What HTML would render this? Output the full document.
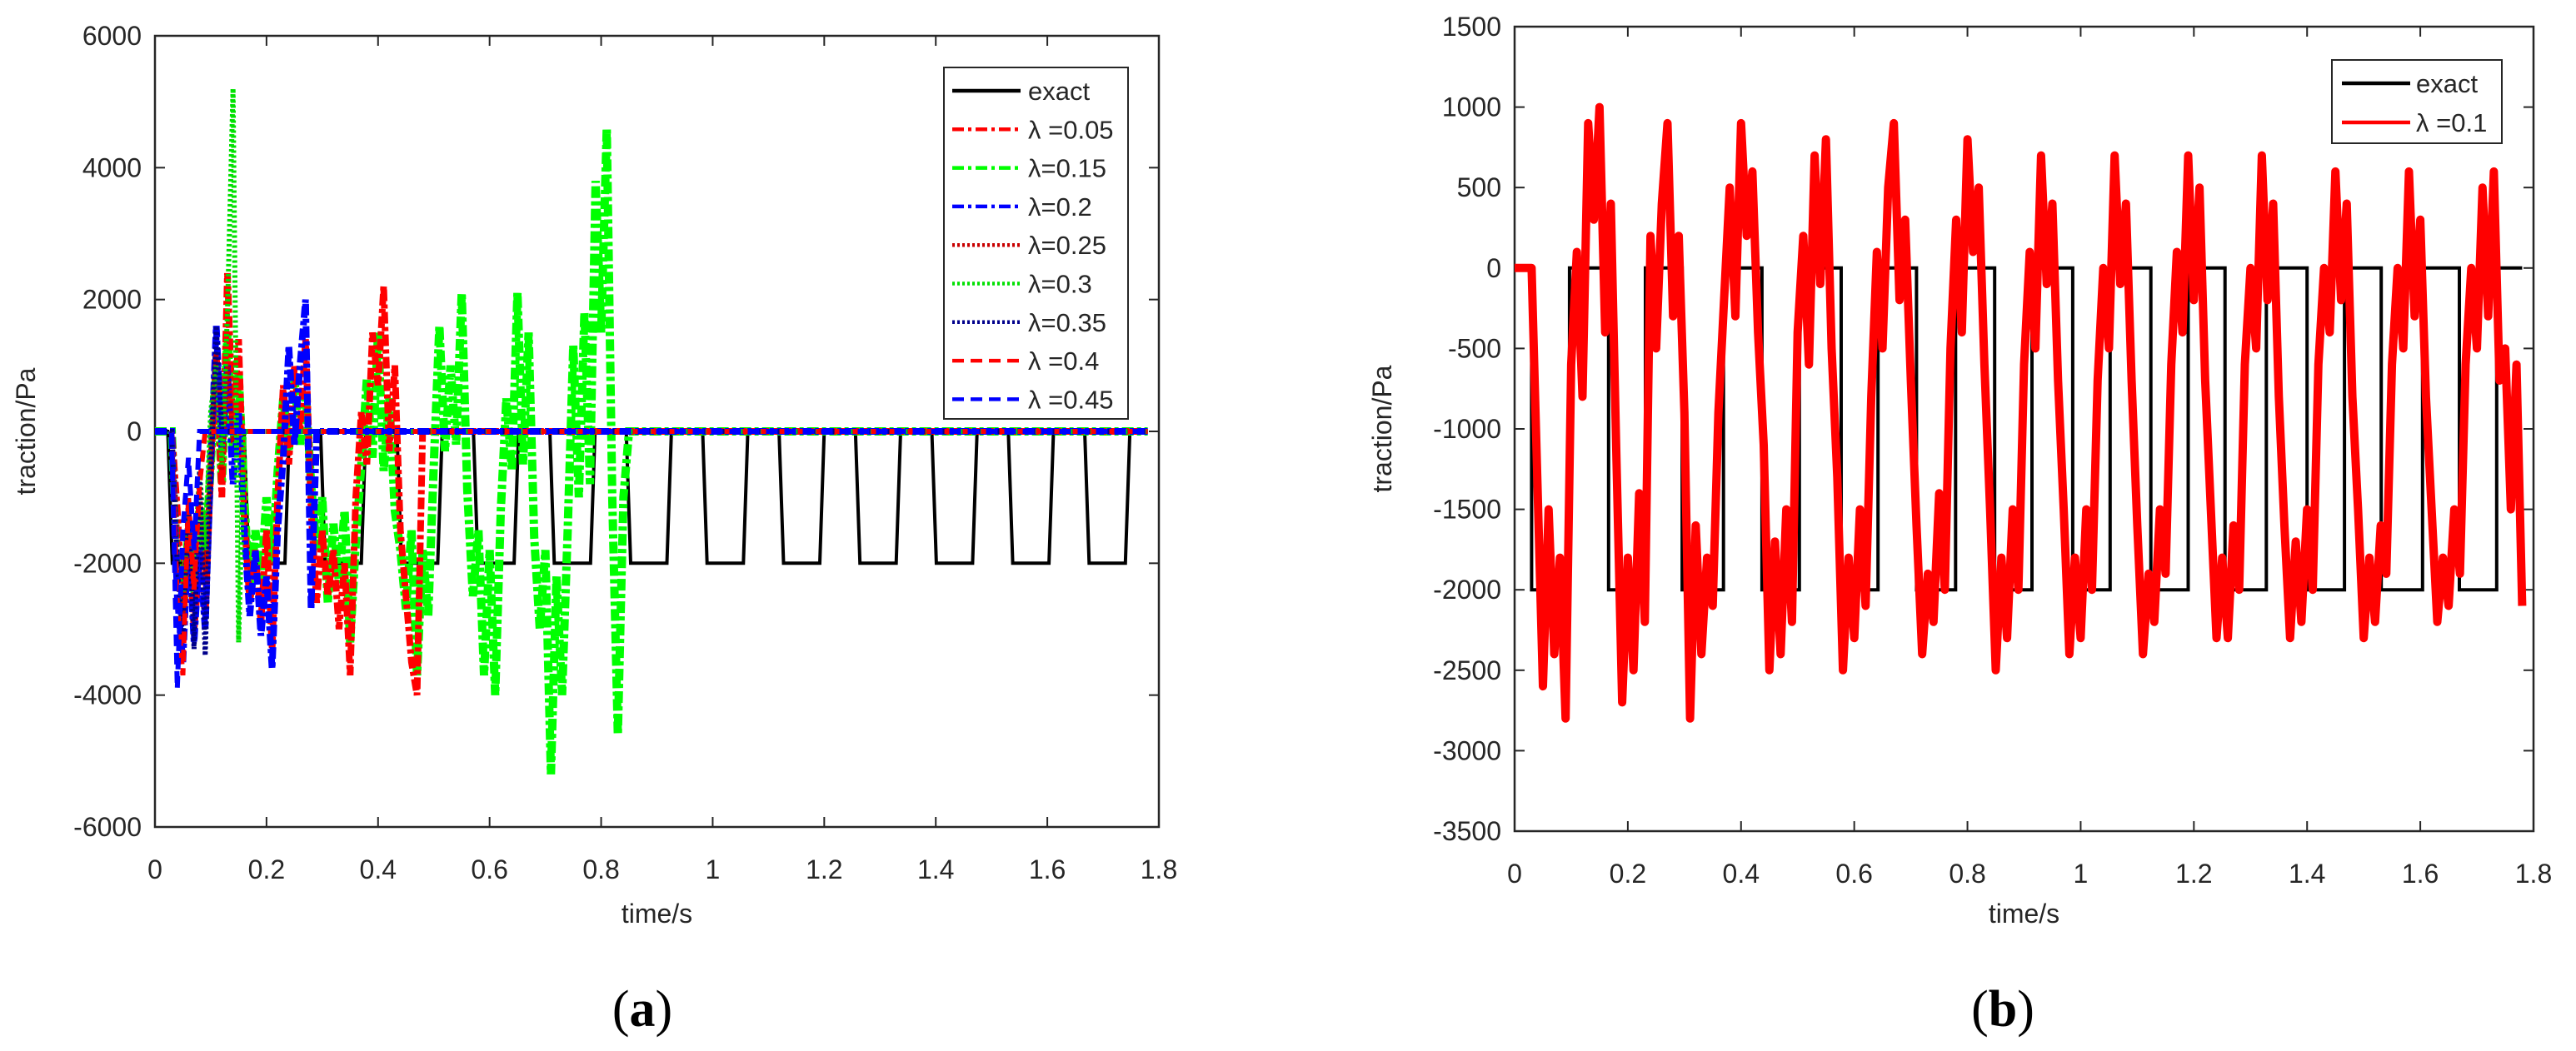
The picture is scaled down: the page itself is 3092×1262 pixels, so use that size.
<!DOCTYPE html>
<html><head><meta charset="utf-8"><style>
html,body{margin:0;padding:0;background:#fff;}
svg{display:block;}
text{font-family:"Liberation Sans",sans-serif;fill:#262626;}
.cap{font-family:"Liberation Serif",serif;fill:#000;}
</style></head><body>
<svg id="fig" width="3092" height="1262" viewBox="0 0 3092 1262" xmlns="http://www.w3.org/2000/svg">
<g id="pa"></g>
<g id="pb"></g>
<text class="cap" x="771" y="1232" font-size="62" text-anchor="middle">(<tspan font-weight="bold">a</tspan>)</text>
<text class="cap" x="2404" y="1232" font-size="62" text-anchor="middle">(<tspan font-weight="bold">b</tspan>)</text>
</svg>
<script>
// ---------- data ----------
const xTicks = [0,0.2,0.4,0.6,0.8,1,1.2,1.4,1.6,1.8];
const xTickLabels = ["0","0.2","0.4","0.6","0.8","1","1.2","1.4","1.6","1.8"];
const aYTicks = [-6000,-4000,-2000,0,2000,4000,6000];
const bYTicks = [-3500,-3000,-2500,-2000,-1500,-1000,-500,0,500,1000,1500];
const dt = 0.01;
// panel a exact pulses (fall times to -2000)
const aExactFalls = [0.023,0.16,0.297,0.434,0.571,0.708,0.845,0.982,1.119,1.256,1.393,1.530,1.667];
const aExactHold = 0.073;
const aExactLevel = -2000;
// panel a series (sampled every dt from t=0)
const aL005 = [0,0,0,0,-1200,-2700,-1500,-3000,-2000,-2800,-600,1200,-1000,2400,0,1400,-1300,-2600,-1800,-2900,-1500,-3300,-1000,700,-500,1000,0,1400,-1200,-2600,-1500,-2500,-1800,-3000,-2000,-3700,-1000,300,-500,1500,700,2200,-300,1000,-1500,-2500,-3500,-4000,0];
const aL015 = [0,0,0,0,-2000,-2800,-1500,-2600,-1200,-2000,-500,1000,-800,1500,-300,900,-1000,-2500,-1500,-2300,-1000,-2000,-600,500,-300,800,-200,600,-800,-1800,-1000,-2600,-1400,-2300,-1200,-3200,-1700,-500,800,-400,1500,-600,500,-1200,-1800,-2700,-1500,-3700,-1800,-2800,-500,1600,-300,1000,-200,2100,-900,-2500,-1500,-3700,-1800,-4000,-1200,500,-600,2100,-500,1500,-1600,-3000,-1800,-5200,-2200,-4000,-1500,1300,-1000,1800,-800,3800,1500,4600,-1000,-4600,-1000,0];
const aL02 = [0,0,0,0,-2500,-3500,-1500,-3200,-1800,-3000,-500,1600,-300,1000,-800,300,-1500,-2800,-1800,-3100,-2200,-3600,-1500,-400,1300,-200,1000,2000,-2700,0];
const aL025 = [0,0,0,0,-1500,-2800,-1200,-2500,-900,-2200,-300,1200,-600,1000,-100,0];
const aL03 = [0,0,0,0,-1800,-2600,-1200,-2200,-600,-1800,300,1000,-500,1800,5200,-3200,0];
const aL035 = [0,0,0,0,-2000,-3200,-1000,-3300,-600,-3400,-700,1600,0];
const aL04 = [0,0,0,0,-2600,-3700,-1000,-2400,-800,0];
const aL045 = [0,0,0,0,-3900,-1500,-400,-1800,0];
// panel b exact (fall/rise times)
const bExactFalls = [0.03,0.166,0.296,0.437,0.577,0.710,0.848,0.986,1.124,1.255,1.400,1.531,1.669];
const bExactRises = [0.097,0.231,0.369,0.503,0.642,0.779,0.914,1.052,1.190,1.328,1.466,1.604,1.735];
const bL01 = [0,0,0,0,-1300,-2600,-1500,-2400,-1800,-2800,-600,100,-800,900,300,1000,-400,400,-1200,-2700,-1800,-2500,-1400,-2200,200,-500,400,900,-300,200,-900,-2800,-1600,-2400,-1800,-2100,-900,-200,500,-300,900,200,600,-400,-1100,-2500,-1700,-2400,-1500,-2200,-400,200,-600,700,-100,800,-500,-1300,-2500,-1800,-2300,-1500,-2100,-800,100,-500,500,900,-200,300,-700,-1600,-2400,-1900,-2200,-1400,-2000,-500,300,-400,800,100,500,-600,-1500,-2500,-1800,-2300,-1500,-2000,-600,100,-500,700,-100,400,-700,-1500,-2400,-1800,-2300,-1500,-2000,-700,0,-500,700,-100,400,-700,-1600,-2400,-1900,-2200,-1500,-1900,-600,100,-400,700,-200,500,-700,-1500,-2300,-1800,-2300,-1600,-2000,-600,0,-500,700,-200,400,-800,-1600,-2300,-1700,-2200,-1500,-2000,-600,0,-400,600,-200,400,-800,-1500,-2300,-1800,-2200,-1600,-1900,-600,0,-500,600,-300,300,-800,-1500,-2200,-1800,-2100,-1500,-1900,-600,0,-500,500,-300,600,-700,-500,-1500,-600,-2100];

// ---------- helpers ----------
const NS="http://www.w3.org/2000/svg";
function mk(tag, attrs, parent){const e=document.createElementNS(NS,tag);for(const k in attrs)e.setAttribute(k,attrs[k]);parent.appendChild(e);return e;}

function axes(g, box, ymin, ymax, yTicks, ylx, yLabelX){
  const sx=t=>box.x0+(t-0)/(1.8)*(box.x1-box.x0);
  const sy=v=>box.y1-(v-ymin)/(ymax-ymin)*(box.y1-box.y0);
  const frame=mk('rect',{x:box.x0,y:box.y0,width:box.x1-box.x0,height:box.y1-box.y0,fill:'#fff',stroke:'#262626','stroke-width':2.5},g);
  
  
  xTicks.forEach((t,i)=>{
    const x=sx(t);
    mk('line',{x1:x,x2:x,y1:box.y1,y2:box.y1-12,stroke:'#262626','stroke-width':2},g);
    mk('line',{x1:x,x2:x,y1:box.y0,y2:box.y0+12,stroke:'#262626','stroke-width':2},g);
    const tx=mk('text',{x:x,y:box.y1+62,'font-size':32,'text-anchor':'middle'},g);
    tx.textContent=xTickLabels[i];
    
    
  });
  yTicks.forEach(v=>{
    const y=sy(v);
    mk('line',{x1:box.x0,x2:box.x0+12,y1:y,y2:y,stroke:'#262626','stroke-width':2},g);
    mk('line',{x1:box.x1,x2:box.x1-12,y1:y,y2:y,stroke:'#262626','stroke-width':2},g);
    const tx=mk('text',{x:ylx,y:y+11,'font-size':32,'text-anchor':'end'},g);
    tx.textContent=String(v);
    
    
  });
  const xl=mk('text',{x:(box.x0+box.x1)/2,y:1108,'font-size':32,'text-anchor':'middle'},g);
  xl.textContent='time/s';
  
  
  const cy=(box.y0+box.y1)/2;
  const yl=mk('text',{x:yLabelX,y:cy,'font-size':32,'text-anchor':'middle',transform:`rotate(-90 ${yLabelX} ${cy})`},g);
  yl.textContent='traction/Pa';
  
  
  return {sx,sy};
}
function seriesPts(arr, sx, sy){
  const p=arr.map((v,i)=>[sx(i*dt),sy(v)]);
  const tEnd=(arr.length-1)*dt;
  if(tEnd<1.78) p.push([sx(1.78),sy(0)]);
  return p.map(q=>q[0].toFixed(1)+','+q[1].toFixed(1)).join(' ');
}

// ---------- panel a ----------
const ga=document.getElementById('pa');
const boxA={x0:186,x1:1391,y0:43,y1:993};
const A=axes(ga,boxA,-6000,6000,aYTicks,170,42);
const clipA=mk('clipPath',{id:'ca'},ga);
mk('rect',{x:boxA.x0,y:boxA.y0,width:boxA.x1-boxA.x0,height:boxA.y1-boxA.y0},clipA);
const plotA=mk('g',{'clip-path':'url(#ca)'},ga);
(function(){
  let pts=[[0,0]];
  aExactFalls.forEach(f=>{pts.push([f,0],[f+0.008,aExactLevel],[f+aExactHold,aExactLevel],[f+aExactHold+0.008,0]);});
  pts.push([1.78,0]);
  const pl=mk('polyline',{points:pts.map(p=>A.sx(p[0]).toFixed(1)+','+A.sy(p[1]).toFixed(1)).join(' '),fill:'none',stroke:'#000','stroke-width':4},plotA);
  
  
})();
const aSeries=[
  {d:aL015,c:'#00ff00',da:'14 4 5 4',w:10,n:'series-lambda-0.15'},
  {d:aL005,c:'#ff0000',da:'14 4 5 4',w:8,n:'series-lambda-0.05'},
  {d:aL02,c:'#0000ff',da:'14 4 5 4',w:8,n:'series-lambda-0.2'},
  {d:aL025,c:'#c80000',da:'3 3',w:6,n:'series-lambda-0.25'},
  {d:aL03,c:'#00e000',da:'3 3',w:6,n:'series-lambda-0.3'},
  {d:aL035,c:'#00008b',da:'3 3',w:6,n:'series-lambda-0.35'},
  {d:aL04,c:'#ff0000',da:'14 8',w:6,n:'series-lambda-0.4'},
  {d:aL045,c:'#0000ff',da:'14 8',w:6,n:'series-lambda-0.45'}
];
aSeries.forEach(s=>{
  const pl=mk('polyline',{points:seriesPts(s.d,A.sx,A.sy),fill:'none',stroke:s.c,'stroke-width':s.w,'stroke-dasharray':s.da},plotA);
  
  
});
(function(){
  const lg=mk('g',{},ga);
  
  
  mk('rect',{x:1133,y:81,width:221,height:422,fill:'#fff',stroke:'#262626','stroke-width':2},lg);
  const ent=[['exact','#000',null],['λ =0.05','#ff0000','14 5 4 5'],['λ=0.15','#00ff00','14 5 4 5'],['λ=0.2','#0000ff','14 5 4 5'],['λ=0.25','#c80000','3 3'],['λ=0.3','#00e000','3 3'],['λ=0.35','#00008b','3 3'],['λ =0.4','#ff0000','14 8'],['λ =0.45','#0000ff','14 8']];
  ent.forEach((e,i)=>{
    const y=109+i*46.3;
    const ge=mk('g',{},lg);
    
    
    const a={x1:1143,x2:1225,y1:y,y2:y,stroke:e[1],'stroke-width':4.5};
    if(e[2])a['stroke-dasharray']=e[2];
    mk('line',a,ge);
    const t=mk('text',{x:1234,y:y+11,'font-size':31},ge);
    t.textContent=e[0];
  });
})();

// ---------- panel b ----------
const gb=document.getElementById('pb');
const boxB={x0:1818,x1:3041,y0:32,y1:998};
const B=axes(gb,boxB,-3500,1500,bYTicks,1802,1670);
const clipB=mk('clipPath',{id:'cb'},gb);
mk('rect',{x:boxB.x0,y:boxB.y0,width:boxB.x1-boxB.x0,height:boxB.y1-boxB.y0},clipB);
const plotB=mk('g',{'clip-path':'url(#cb)'},gb);
(function(){
  let pts=[[0,0]];
  bExactFalls.forEach((f,i)=>{
    const r=bExactRises[i];
    pts.push([f,0],[f,-2000],[r,-2000],[r,0]);
  });
  pts.push([1.78,0]);
  const pl=mk('polyline',{points:pts.map(p=>B.sx(p[0]).toFixed(1)+','+B.sy(p[1]).toFixed(1)).join(' '),fill:'none',stroke:'#000','stroke-width':4},plotB);
  
  
  const pr=mk('polyline',{points:bL01.map((v,i)=>B.sx(i*dt).toFixed(1)+','+B.sy(v).toFixed(1)).join(' '),fill:'none',stroke:'#ff0000','stroke-width':10,'stroke-linejoin':'round'},plotB);
  
  
})();
(function(){
  const lg=mk('g',{},gb);
  
  
  mk('rect',{x:2799,y:72,width:204,height:100,fill:'#fff',stroke:'#262626','stroke-width':2},lg);
  [['exact','#000'],['λ =0.1','#ff0000']].forEach((e,i)=>{
    const y=100+i*47;
    const ge=mk('g',{},lg);
    
    
    mk('line',{x1:2811,x2:2893,y1:y,y2:y,stroke:e[1],'stroke-width':4.5},ge);
    const t=mk('text',{x:2900,y:y+11,'font-size':31},ge);
    t.textContent=e[0];
  });
})();
</script>
</body></html>
